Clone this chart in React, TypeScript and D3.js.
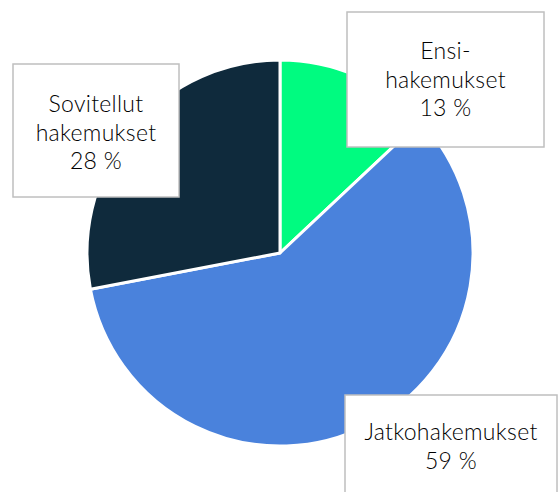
import React, { useEffect, useRef } from 'react';
import * as d3 from 'd3';

const categories = ['Ensi-hakemukset', 'Jatkohakemukset', 'Sovitellut hakemukset'];
const labelLines = [['Ensi-', 'hakemukset'], ['Jatkohakemukset'], ['Sovitellut', 'hakemukset']];
const values = [13, 59, 28];
const colors = ['#00fb80', '#4a82dc', '#0f2a3c'];

const App = () => {
    const ref = useRef<SVGSVGElement | null>(null);

    useEffect(() => {
        if (!ref.current) return;
        document.body.style.margin = '0';
        const svg = d3.select(ref.current);
        svg.selectAll('*').remove();

        const cx = 280, cy = 253, r = 193;
        const pie = d3.pie<number>().value(d => d).sort(null);
        const arc = d3.arc<d3.PieArcDatum<number>>().innerRadius(0).outerRadius(r);

        const g = svg.append('g').attr('transform', `translate(${cx},${cy})`);
        g.selectAll('path')
            .data(pie(values))
            .enter()
            .append('path')
            .attr('d', arc)
            .attr('fill', (d, i) => colors[i])
            .attr('stroke', '#fff')
            .attr('stroke-width', 3)
            .attr('stroke-linejoin', 'round');

        // label boxes (x, y, w, h) and first baseline
        const boxes = [
            { x: 347, y: 12, w: 197, h: 135, base: 59 },
            { x: 345, y: 395, w: 212, h: 110, base: 440 },
            { x: 13, y: 64, w: 166, h: 133, base: 112 },
        ];
        const lineH = 28.5;

        categories.forEach((c, i) => {
            const b = boxes[i];
            const lg = svg.append('g');
            lg.append('rect')
                .attr('x', b.x)
                .attr('y', b.y)
                .attr('width', b.w)
                .attr('height', b.h)
                .attr('fill', '#fff')
                .attr('stroke', '#bfbfbf')
                .attr('stroke-width', 1.5);
            const lines = [...labelLines[i], `${values[i]} %`];
            lines.forEach((t, j) => {
                lg.append('text')
                    .attr('x', b.x + b.w / 2)
                    .attr('y', b.base + j * lineH)
                    .attr('text-anchor', 'middle')
                    .style('font-family', 'Lato, sans-serif')
                    .style('font-weight', 300)
                    .style('letter-spacing', '0.3px')
                    .style('font-size', '23px')
                    .style('fill', '#000')
                    .text(t);
            });
        });
    }, []);

    return (
        <svg ref={ref} width={559} height={492} style={{ display: 'block' }}></svg>
    );
};

export default App;
